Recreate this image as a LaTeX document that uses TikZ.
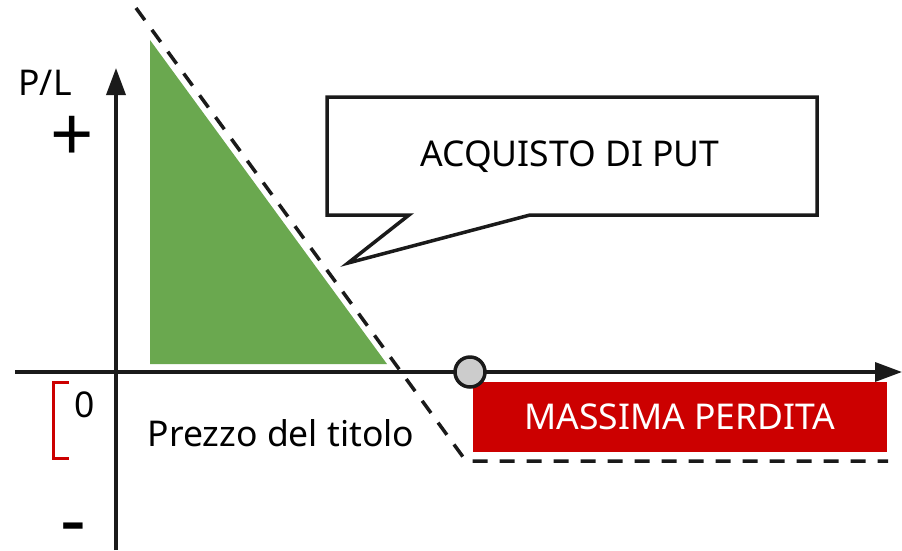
\documentclass[tikz,border=0pt]{standalone}
\usepackage{fontspec}
\setmainfont{Noto Sans}
\usetikzlibrary{arrows.meta}
\definecolor{ggreen}{HTML}{6AA84F}
\definecolor{rred}{HTML}{CC0000}
\definecolor{axcol}{HTML}{1A1A1A}
\tikzset{
  axisline/.style={line width=3.5pt, draw=axcol, -{Triangle[length=27pt,width=19pt]}},
  payoff/.style={line width=3.5pt, draw=axcol, dash pattern=on 15pt off 12pt},
  lbl/.style={font=\fontsize{35.5}{40}\selectfont, inner sep=0pt},
  callout/.style={line width=3.5pt, draw=axcol, fill=white, line join=miter},
}
\begin{document}
\begin{tikzpicture}[x=1pt,y=-1pt]
\useasboundingbox (0,0) rectangle (902,550);
% green triangle
\fill[ggreen] (150,40) -- (150,364) -- (387,364) -- cycle;
% axes
\coordinate (ybot) at (116,550);
\coordinate (ytop) at (116,68);
\coordinate (xleft) at (15,372);
\coordinate (xright) at (902,372);
\draw[axisline] (ybot) -- (ytop);
\draw[axisline] (xleft) -- (xright);
% red box
\node[fill=rred, minimum width=414pt, minimum height=70pt, inner sep=0pt, text=white, font=\fontsize{35.5}{40}\selectfont] (loss) at (680,417) {MASSIMA PERDITA};
% payoff dashed
\coordinate (ps) at (136,8);
\coordinate (pk) at (466,461);
\coordinate (pe) at (888,461);
\draw[payoff] (ps) -- (pk) -- (pe);
% strike circle
\node[circle, draw=axcol, line width=3.5pt, fill=black!20, minimum size=30pt, inner sep=0pt] (strike) at (470,372) {};
% callout
\draw[callout] (327,97) -- (817,97) -- (817,215) -- (530,215) -- (348,263) -- (409,215) -- (327,215) -- cycle;
\node[lbl] (title) at (570,157) {ACQUISTO DI PUT};
% labels
\node[lbl] (pl) at (45,83) {P/L};
\node[inner sep=0pt, font=\fontsize{76}{80}\bfseries] (plus) at (72,139) {+};
\node[inner sep=0pt, font=\fontsize{80}{84}\bfseries] (minus) at (73,535) {-};
\node[lbl] (zero) at (85,405) {0};
\node[lbl] (price) at (281,433) {Prezzo del titolo};
% red bracket
\draw[rred, line width=3pt] (69,382) -- (53,382) -- (53,458) -- (69,458);
\end{tikzpicture}
\end{document}
